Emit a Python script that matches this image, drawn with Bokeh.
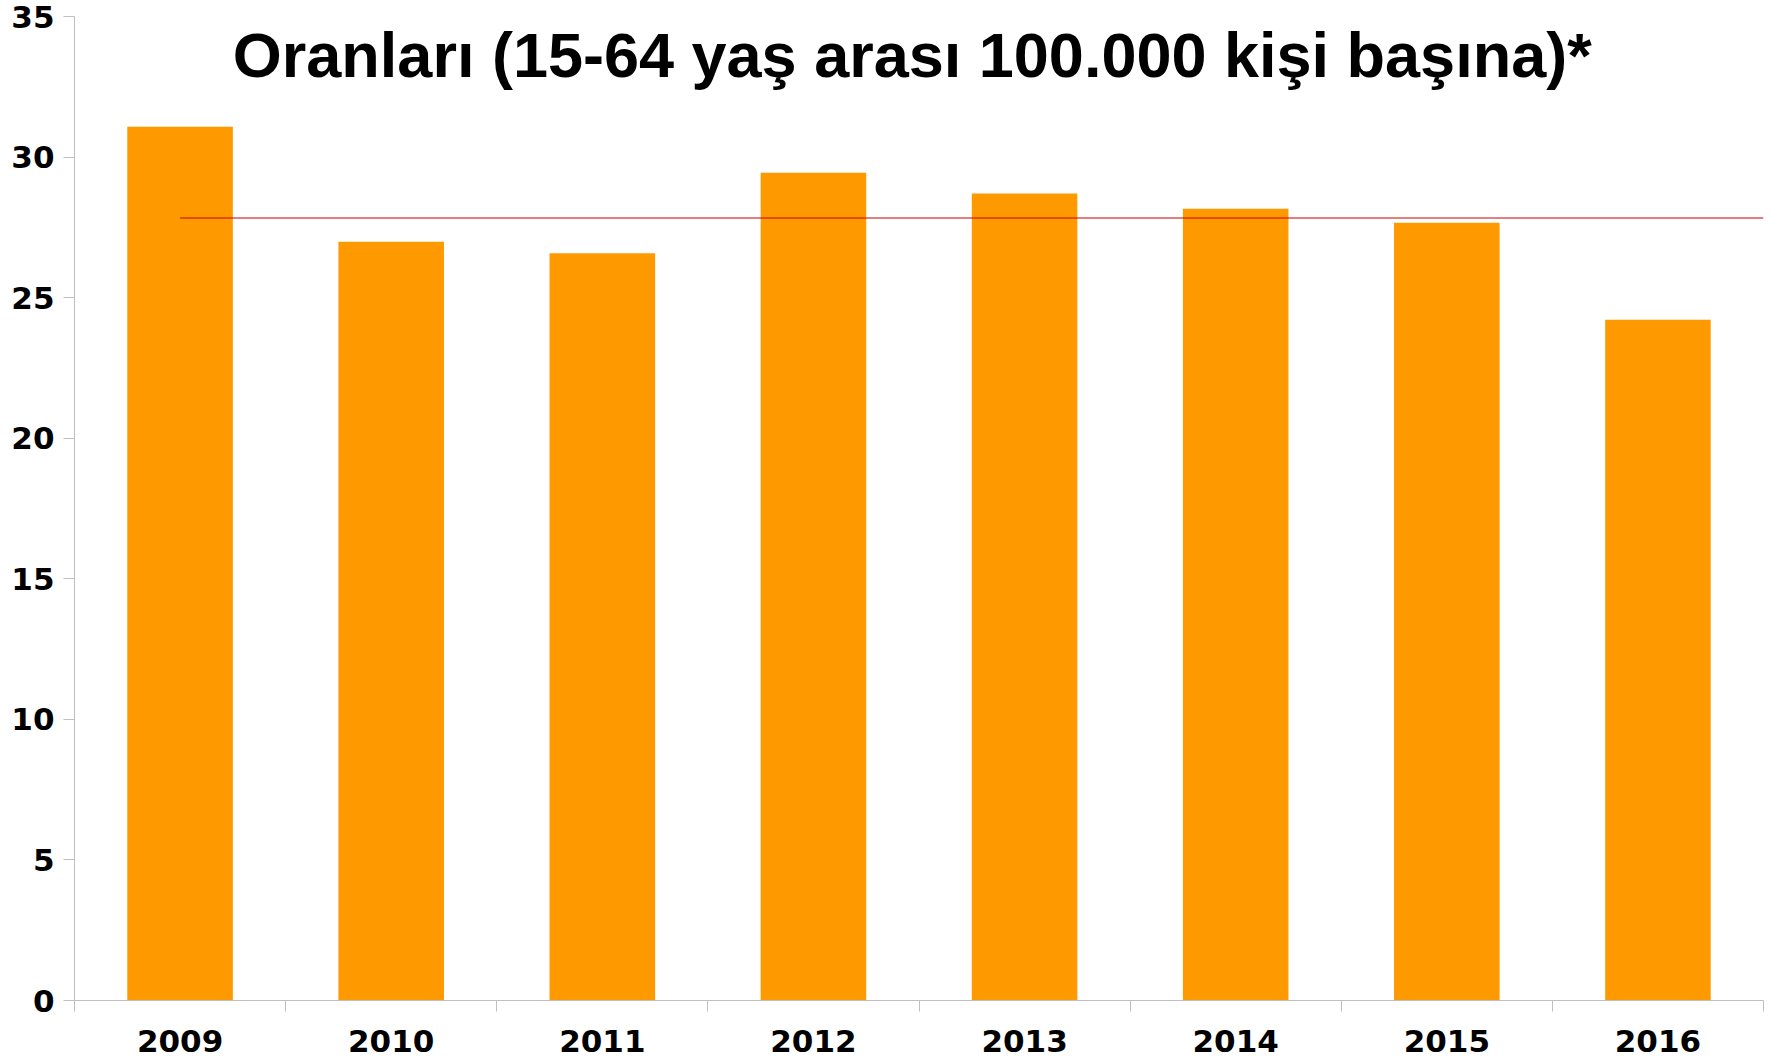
import numpy as np
from bokeh.plotting import figure
from bokeh.models import FixedTicker, Label, Range1d
from bokeh.embed import file_html
from bokeh.resources import INLINE

# ---- data ----
years = ["2009", "2010", "2011", "2012", "2013", "2014", "2015", "2016"]
rates = [31.08, 26.99, 26.58, 29.44, 28.70, 28.16, 27.66, 24.21]
average_rate = 27.83
y_ticks = [0, 5, 10, 15, 20, 25, 30, 35]
title_text = "Oranları (15-64 yaş arası 100.000 kişi başına)*"

n = len(years)
centers = list(np.arange(n) + 0.5)
bounds = list(np.arange(n + 1).astype(float))

p = figure(
    output_backend="svg", toolbar_location=None,
    width=1764, height=1060,
    min_border_left=74, min_border_right=1, min_border_top=16, min_border_bottom=60,
    x_range=Range1d(0, n), y_range=Range1d(0, 35),
    background_fill_color="white", border_fill_color="white",
)
p.outline_line_color = None
p.xgrid.visible = False
p.ygrid.visible = False

p.vbar(x=centers, top=rates, width=0.5, bottom=0, fill_color="#FF9900", line_color=None)
p.line(x=[centers[0], float(n)], y=[average_rate, average_rate],
       line_color="#CC0000", line_alpha=0.5, line_width=2)

axis_col = "#BFBFBF"
# x axis
xa = p.xaxis[0]
xa.ticker = FixedTicker(ticks=centers, minor_ticks=bounds)
xa.major_label_overrides = {c: y for c, y in zip(centers, years)}
xa.major_tick_line_color = None
xa.major_tick_out = 0
xa.major_tick_in = 0
xa.minor_tick_line_color = axis_col
xa.minor_tick_out = 11
xa.minor_tick_in = 0
xa.axis_line_color = axis_col
xa.major_label_text_font = "DejaVu Sans"
xa.major_label_text_font_style = "bold"
xa.major_label_text_font_size = "31px"
xa.major_label_text_color = "black"
xa.major_label_standoff = 18

# y axis
ya = p.yaxis[0]
ya.ticker = FixedTicker(ticks=y_ticks)
ya.axis_line_color = axis_col
ya.major_tick_line_color = axis_col
ya.major_tick_out = 11
ya.major_tick_in = 0
ya.minor_tick_line_color = None
ya.major_label_text_font = "DejaVu Sans"
ya.major_label_text_font_style = "bold"
ya.major_label_text_font_size = "31px"
ya.major_label_text_color = "black"
ya.major_label_standoff = 9

title = Label(x=n / 2 - 0.032, y=33.62, text=title_text, text_align="center",
              text_baseline="alphabetic", text_font="Liberation Sans",
              text_font_style="bold", text_font_size="63px", text_color="black")
p.add_layout(title)

open("out.html", "w").write(file_html(p, INLINE))
